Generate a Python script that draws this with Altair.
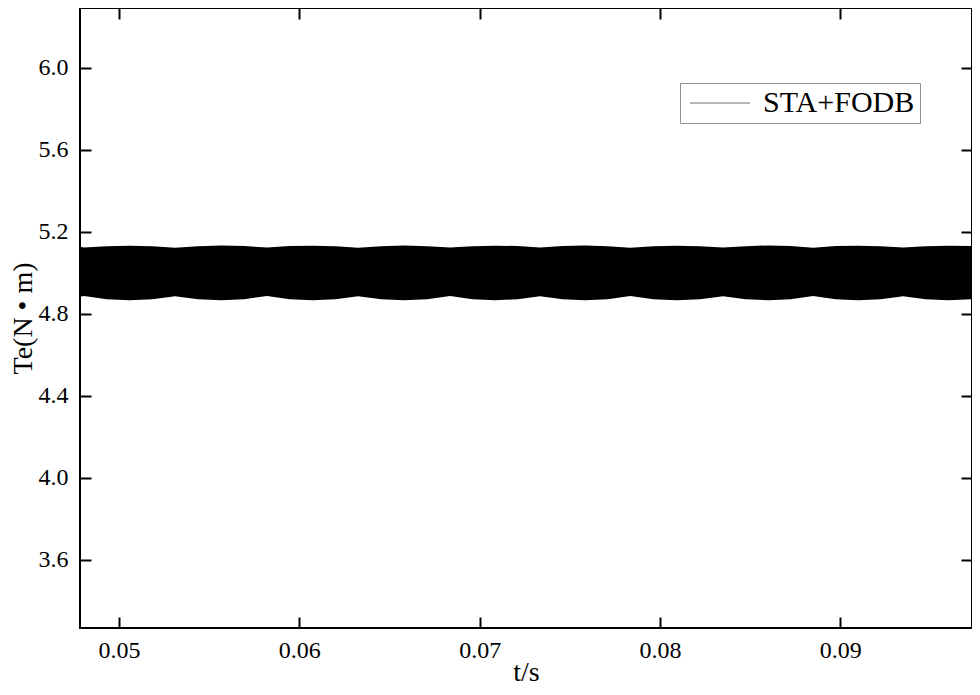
import altair as alt
import pandas as pd

# envelope of the (dense) torque ripple
t = [0.04784,
     0.04806, 0.04932, 0.05059, 0.05185,
     0.05311, 0.05439, 0.05566, 0.05694,
     0.05821, 0.05947, 0.06074, 0.06200,
     0.06326, 0.06454, 0.06581, 0.06709,
     0.06836, 0.06961, 0.07086, 0.07210,
     0.07335, 0.07460, 0.07585, 0.07710,
     0.07835, 0.07964, 0.08093, 0.08222,
     0.08350, 0.08475, 0.08600, 0.08724,
     0.08849, 0.08974, 0.09099, 0.09223,
     0.09348, 0.09474, 0.09600, 0.09726,
     0.09747]
upper = [5.127,
         5.124, 5.130, 5.133, 5.130,
         5.123, 5.130, 5.134, 5.131,
         5.124, 5.131, 5.133, 5.130,
         5.123, 5.130, 5.134, 5.130,
         5.124, 5.130, 5.133, 5.131,
         5.124, 5.131, 5.134, 5.130,
         5.123, 5.130, 5.133, 5.130,
         5.124, 5.130, 5.134, 5.131,
         5.123, 5.131, 5.133, 5.130,
         5.124, 5.130, 5.133, 5.131,
         5.130]
lower = [4.884,
         4.887, 4.872, 4.866, 4.871,
         4.886, 4.871, 4.867, 4.872,
         4.887, 4.872, 4.866, 4.871,
         4.886, 4.872, 4.867, 4.872,
         4.887, 4.871, 4.866, 4.872,
         4.886, 4.872, 4.867, 4.871,
         4.887, 4.872, 4.866, 4.872,
         4.886, 4.871, 4.867, 4.872,
         4.887, 4.872, 4.866, 4.871,
         4.886, 4.872, 4.867, 4.871,
         4.871]
series = ["STA+FODB"]
x_ticks = [0.05, 0.06, 0.07, 0.08, 0.09]
y_ticks = [3.6, 4.0, 4.4, 4.8, 5.2, 5.6, 6.0]

df = pd.DataFrame({"t": t, "upper": upper, "lower": lower})
df["series"] = series[0]

FONT = "Liberation Serif"
xscale = alt.Scale(domain=[0.04784, 0.09730], nice=False, zero=False)
yscale = alt.Scale(domain=[3.268, 6.292], nice=False, zero=False)

TK = 11
common = dict(domain=False, grid=False, offset=-TK, tickSize=TK, tickWidth=2,
              tickColor="black")

band = alt.Chart(df).mark_area(interpolate="linear").encode(
    x=alt.X("t:Q", scale=xscale, axis=alt.Axis(
        values=x_ticks, format=".2f", title="t/s", labelFont=FONT,
        labelFontSize=24, labelColor="black", labelPadding=10,
        titleFont=FONT, titleFontSize=28, titleFontWeight="normal",
        titleColor="black", titlePadding=-4, **common)),
    y=alt.Y("upper:Q", scale=yscale, axis=alt.Axis(
        values=y_ticks, format=".1f", title="Te(N • m)", labelFont=FONT,
        labelFontSize=24, labelColor="black", labelPadding=12,
        titleFont=FONT, titleFontSize=28, titleFontWeight="normal",
        titleColor="black", titlePadding=1, **common)),
    y2="lower:Q",
    color=alt.Color("series:N", scale=alt.Scale(domain=series, range=["black"]),
                    legend=alt.Legend(
                        title=None, orient="none", legendX=600, legendY=75,
                        symbolType="M-1,0H5", symbolStrokeColor="#707070",
                        symbolStrokeWidth=1.2, symbolSize=400,
                        labelFont=FONT, labelFontSize=30, labelColor="black",
                        labelOffset=48, strokeColor="#909090", fillColor="white",
                        padding=5, cornerRadius=0)),
)

mirror = alt.Chart(df).mark_point(opacity=0).encode(
    x=alt.X("t:Q", scale=xscale, axis=alt.Axis(
        orient="top", values=x_ticks, labels=False, title=None, **common)),
    y=alt.Y("upper:Q", scale=yscale, axis=alt.Axis(
        orient="right", values=y_ticks, labels=False, title=None, **common)),
)

chart = alt.layer(band, mirror).resolve_axis(
    x="independent", y="independent"
).properties(
    width=892, height=620,
    autosize=alt.AutoSizeParams(type="none"),
    padding={"left": 72, "top": 0, "right": 0, "bottom": 59},
    background="white",
).configure(font=FONT).configure_axis(
    labelFont=FONT, titleFont=FONT
).configure_legend(labelFont=FONT).configure_view(stroke="black", strokeWidth=2)

chart.save("out.html", embed_options={"renderer": "svg", "actions": False})
